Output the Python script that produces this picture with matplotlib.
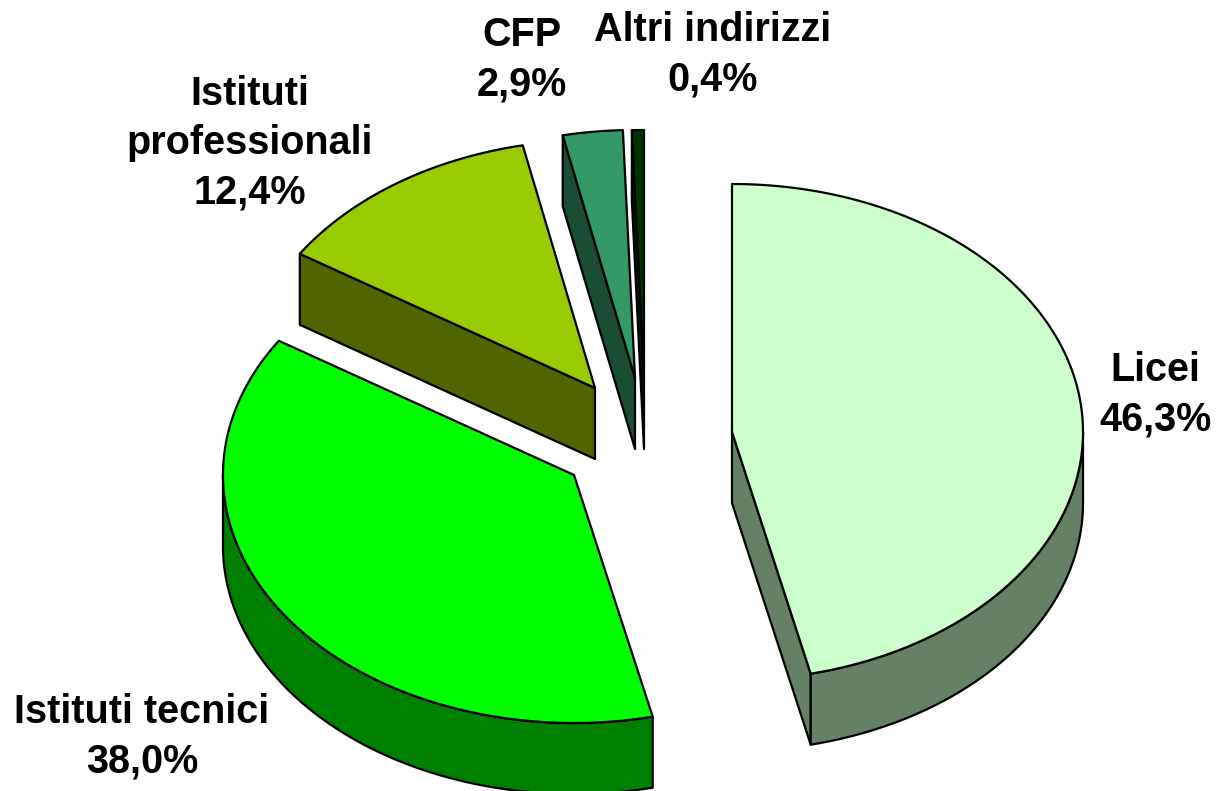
import numpy as np
import matplotlib
matplotlib.use('Agg')
import matplotlib.pyplot as plt

categories = ['Licei', 'Istituti tecnici', 'Istituti\nprofessionali', 'CFP', 'Altri indirizzi']
# printed labels
percent_labels = ['46,3%', '38,0%', '12,4%', '2,9%', '0,4%']
# slice sizes as measured from the drawn angles, not quite the printed numbers
shares = [46.4, 37.7, 12.6, 2.75, 0.55]

top_colors = ['#CCFFCC', '#00FF00', '#99CC00', '#339966', '#003300']
side_colors = ['#668066', '#008000', '#4F6600', '#1A4D33', '#001A00']

# pie centre of each exploded slice, in pixels
centres = [(732, 432), (574, 475), (595, 388), (635, 378), (644, 378)]
label_pos = [(1155, 395), (142, 737), (250, 143), (522, 60), (713, 55)]

rx, ry = 351, 248
depth = 71


def rim(cx, cy, a0, a1, n=200):
    t = np.radians(np.linspace(a0, a1, n))
    return cx + rx * np.sin(t), cy - ry * np.cos(t)


def edge_pt(cx, cy, a):
    t = np.radians(a)
    return cx + rx * np.sin(t), cy - ry * np.cos(t)


fig = plt.figure(figsize=(12.17, 7.91), dpi=100)
ax = fig.add_axes([0, 0, 1, 1])
ax.set_xlim(0, 1217)
ax.set_ylim(791, 0)
ax.axis('off')

total = sum(shares)
angles = np.cumsum([0] + [s / total * 360 for s in shares])
lw = 1.6

for i in [4, 3, 2, 1, 0]:
    cx, cy = centres[i]
    a0, a1 = angles[i], angles[i + 1]

    # side wall along the cut edge, seen for slices left of the apex or the first one
    if i == 0:
        ex, ey = edge_pt(cx, cy, a1)
        ax.fill([cx, ex, ex, cx], [cy, ey, ey + depth, cy + depth],
                fc=side_colors[i], ec='black', lw=lw, joinstyle='round', zorder=i)
    if i >= 2:
        ex, ey = edge_pt(cx, cy, a0)
        ax.fill([cx, ex, ex, cx], [cy, ey, ey + depth, cy + depth],
                fc=side_colors[i], ec='black', lw=lw, joinstyle='round', zorder=i)

    # outer rim, only the part that faces the viewer
    lo, hi = max(a0, 90), min(a1, 270)
    if lo < hi:
        x, y = rim(cx, cy, lo, hi)
        ax.fill(np.r_[x, x[::-1]], np.r_[y, y[::-1] + depth],
                fc=side_colors[i], ec='black', lw=lw, joinstyle='round', zorder=i)

    x, y = rim(cx, cy, a0, a1)
    ax.fill(np.r_[cx, x], np.r_[cy, y], fc=top_colors[i], ec='black', lw=lw,
            joinstyle='round', zorder=i)

for name, pct, (lx, ly) in zip(categories, percent_labels, label_pos):
    ax.text(lx, ly, name + '\n' + pct, ha='center', va='center', family='Liberation Sans',
            fontweight='bold', fontsize=28.5, linespacing=1.38, zorder=10)

fig.savefig('out.png', dpi=100)
